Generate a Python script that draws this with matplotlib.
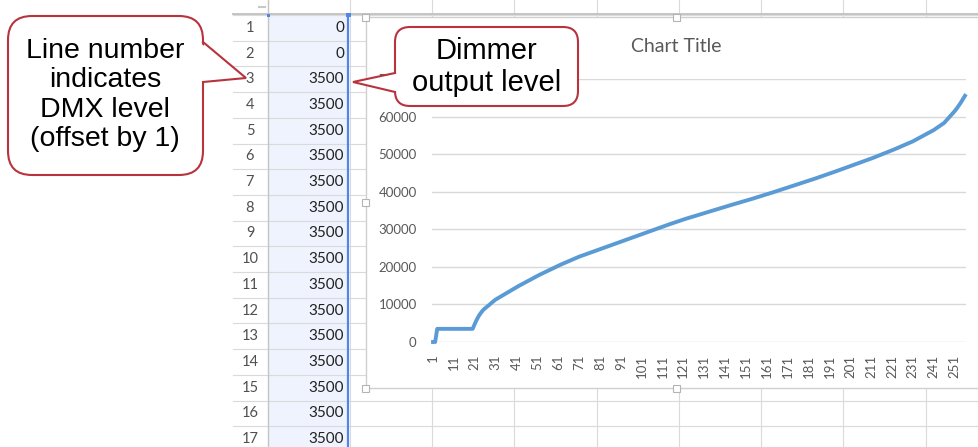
import matplotlib.pyplot as plt
from matplotlib.patches import Rectangle, FancyBboxPatch, Polygon

# DMX level (row number) -> dimmer output level, one value per row
dmx_out = [
    0, 0, 3500, 3500, 3500, 3500, 3500, 3500, 3500, 3500,
    3500, 3500, 3500, 3500, 3500, 3500, 3500, 3500, 3500, 3500,
    4800, 6000, 7000, 7800, 8500, 9000, 9450, 9900, 10400, 10850,
    11300, 11630, 11960, 12290, 12620, 12950, 13280, 13610, 13940, 14270,
    14600, 14900, 15200, 15500, 15800, 16100, 16400, 16700, 17000, 17300,
    17600, 17870, 18140, 18410, 18680, 18950, 19220, 19490, 19760, 20030,
    20300, 20540, 20780, 21020, 21260, 21500, 21740, 21980, 22220, 22460,
    22700, 22900, 23100, 23300, 23500, 23700, 23900, 24100, 24300, 24500,
    24700, 24900, 25100, 25300, 25500, 25700, 25900, 26100, 26300, 26500,
    26700, 26900, 27100, 27300, 27500, 27700, 27900, 28100, 28300, 28500,
    28700, 28900, 29100, 29300, 29500, 29700, 29900, 30100, 30300, 30500,
    30700, 30890, 31080, 31270, 31460, 31650, 31840, 32030, 32220, 32410,
    32600, 32770, 32940, 33110, 33280, 33450, 33620, 33790, 33960, 34130,
    34300, 34470, 34640, 34810, 34980, 35150, 35320, 35490, 35660, 35830,
    36000, 36160, 36320, 36480, 36640, 36800, 36960, 37120, 37280, 37440,
    37600, 37770, 37940, 38110, 38280, 38450, 38620, 38790, 38960, 39130,
    39300, 39480, 39660, 39840, 40020, 40200, 40380, 40560, 40740, 40920,
    41100, 41280, 41460, 41640, 41820, 42000, 42180, 42360, 42540, 42720,
    42900, 43090, 43280, 43470, 43660, 43850, 44040, 44230, 44420, 44610,
    44800, 45000, 45200, 45400, 45600, 45800, 46000, 46200, 46400, 46600,
    46800, 47000, 47200, 47400, 47600, 47800, 48000, 48200, 48400, 48600,
    48800, 49020, 49240, 49460, 49680, 49900, 50120, 50340, 50560, 50780,
    51000, 51240, 51480, 51720, 51960, 52200, 52440, 52680, 52920, 53160,
    53400, 53700, 54000, 54300, 54600, 54900, 55200, 55500, 55800, 56100,
    56400, 56780, 57160, 57540, 57920, 58300, 58920, 59540, 60160, 60780,
    61400, 62100, 62900, 63700, 64600, 65535,
]
rows = list(range(1, len(dmx_out) + 1))
x_ticks = list(range(1, 257, 10))
y_ticks = list(range(0, 70001, 10000))
n_visible_rows = 17

W, H = 979, 447
fig = plt.figure(figsize=(W / 100, H / 100), dpi=100)

# sheet background, drawn in pixel coordinates
bg = fig.add_axes([0, 0, 1, 1])
bg.set_xlim(0, W)
bg.set_ylim(H, 0)
bg.axis('off')

row_top, row_h = 15.0, 25.7
col_lines = [432, 514, 597, 679, 761, 843, 926]

bg.add_patch(Rectangle((268, row_top), 81, H - row_top, fc='#EEF3FD', ec='none', zorder=0))
for k in range(n_visible_rows + 1):
    y = row_top + k * row_h
    bg.plot([233, W], [y, y], color='#DADADA', lw=0.8, zorder=1)
for x in col_lines + [350]:
    bg.plot([x, x], [0, H], color='#DADADA', lw=0.8, zorder=1)
bg.plot([268, 268], [0, H], color='#C4C4C4', lw=1, zorder=1)
bg.plot([233, W], [14, 14], color='#C4C4C4', lw=1.4, zorder=1)
bg.plot([259, 265], [7, 7], color='#C8C8C8', lw=1.5, zorder=1)

# row numbers and column A values
for i in range(n_visible_rows):
    yc = row_top + (i + 0.5) * row_h
    bg.text(250, yc, str(rows[i]), ha='center', va='center', fontsize=10.5,
            color='#505050', family=['Lato', 'DejaVu Sans'], zorder=2)
    bg.text(344, yc, str(dmx_out[i]), ha='right', va='center', fontsize=11,
            color='#222222', family=['Lato', 'DejaVu Sans'], zorder=2)

# selected column edge
bg.plot([348.5, 348.5], [row_top, H], color='#4F86EC', lw=1.6, zorder=2)
bg.add_patch(Rectangle((267, 14), 3, 3, fc='#4F86EC', ec='none', zorder=2))
bg.add_patch(Rectangle((346, 13), 5, 4, fc='#4F86EC', ec='none', zorder=2))

# chart object frame and sizing handles
bg.add_patch(Rectangle((366, 17), W - 366 + 20, 388 - 17, fc='white', ec='#D0D0D0', lw=1, zorder=3))
for hx, hy in [(366, 17), (366, 202), (366, 388), (677, 17), (677, 388)]:
    bg.add_patch(Rectangle((hx - 3.5, hy - 3.5), 7, 7, fc='white', ec='#B4B4B4', lw=0.8, zorder=4))
bg.text(676, 46, 'Chart Title', ha='center', va='center', fontsize=14,
        color='#595959', family=['Lato', 'DejaVu Sans'], zorder=4)

# the line chart itself
ax = fig.add_axes([432 / W, (H - 342) / H, (966 - 432) / W, (342 - 79) / H], zorder=5)
ax.patch.set_alpha(0)
ax.plot(rows, dmx_out, color='#5B9BD5', lw=2.8, solid_joinstyle='round', clip_on=False)
ax.set_xlim(0.5, 256.5)
ax.set_ylim(0, 70000)
ax.set_yticks(y_ticks)
ax.set_yticklabels([str(v) for v in y_ticks])
ax.set_xticks(x_ticks)
ax.set_xticklabels([str(v) for v in x_ticks], rotation=90)
ax.yaxis.grid(True, color='#D9D9D9', lw=1)
ax.set_axisbelow(True)
for s in ax.spines.values():
    s.set_visible(False)
ax.tick_params(axis='y', length=0, pad=11, labelsize=9.5, labelcolor='#595959')
ax.tick_params(axis='x', length=0, pad=9, labelsize=9.5, labelcolor='#595959')
for lab in ax.get_xticklabels() + ax.get_yticklabels():
    lab.set_family(['Lato', 'DejaVu Sans'])

# callouts on top of everything
top = fig.add_axes([0, 0, 1, 1], zorder=10)
top.set_xlim(0, W)
top.set_ylim(H, 0)
top.axis('off')
red = '#B8333E'


def callout(x0, y0, w, h, rad, base1, tip, base2, inner_dx):
    top.add_patch(FancyBboxPatch((x0, y0), w, h, boxstyle=f'round,pad=0,rounding_size={rad}',
                                 fc='white', ec=red, lw=1.5, zorder=1))
    b1 = (base1[0] + inner_dx, base1[1])
    b2 = (base2[0] + inner_dx, base2[1])
    top.add_patch(Polygon([b1, tip, b2], closed=True, fc='white', ec='none', zorder=2))
    top.plot([base1[0], tip[0], base2[0]], [base1[1], tip[1], base2[1]],
             color=red, lw=1.5, zorder=3, solid_joinstyle='miter')


callout(8, 16, 195, 159, 24, (203, 42), (246, 78), (203, 82), -4)
top.text(105, 95, 'Line number\nindicates\nDMX level\n(offset by 1)', ha='center', va='center',
         fontsize=20.5, linespacing=1.18, family=['Liberation Sans', 'DejaVu Sans'], zorder=4)

callout(395, 27, 183, 79, 15, (395, 73), (353, 82), (395, 92), 4)
top.text(487, 67, 'Dimmer\noutput level', ha='center', va='center',
         fontsize=21, linespacing=1.15, family=['Liberation Sans', 'DejaVu Sans'], zorder=4)

fig.savefig('out.png', dpi=100)
